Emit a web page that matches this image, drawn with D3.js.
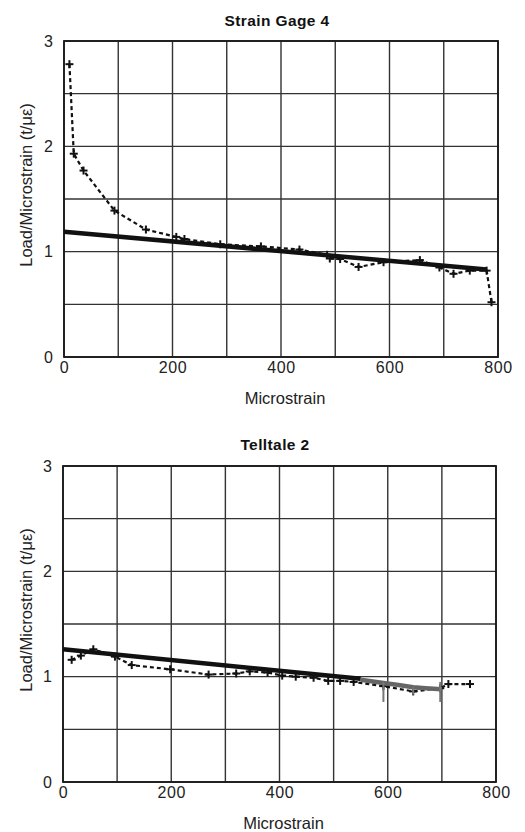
<!DOCTYPE html>
<html>
<head>
<meta charset="utf-8">
<script src="https://cdn.jsdelivr.net/npm/d3@7"></script>
<style>
  html, body { margin: 0; padding: 0; background: #fff; }
  svg { display: block; font-family: "Liberation Sans", Arial, Helvetica, sans-serif; }
</style>
</head>
<body>
<svg id="chart" width="525" height="832"></svg>
<script>
// Shared axis ticks
const xTicks = [0, 200, 400, 600, 800];
const xGrid = [0, 100, 200, 300, 400, 500, 600, 700, 800];
const yTicks = [0, 1, 2, 3];
const yGrid = [0, 0.5, 1, 1.5, 2, 2.5, 3];

// Strain Gage 4: measured load/microstrain
const gageX = [10, 18, 36, 93, 151, 207, 222, 288, 363, 434, 485, 490, 509, 543, 589, 656, 692, 718, 748, 779, 788];
const gageY = [2.78, 1.93, 1.77, 1.39, 1.21, 1.14, 1.12, 1.07, 1.05, 1.02, 0.97, 0.935, 0.93, 0.855, 0.90, 0.92, 0.85, 0.79, 0.82, 0.82, 0.52];
// Strain Gage 4: linear trend
const gageTrendX = [0, 779];
const gageTrendY = [1.19, 0.83];

// Telltale 2: measured load/microstrain
const tellX = [16, 33, 56, 96, 127, 198, 269, 320, 345, 378, 405, 430, 463, 490, 512, 537, 592, 647, 697, 712, 752];
const tellY = [1.16, 1.20, 1.26, 1.19, 1.11, 1.07, 1.02, 1.03, 1.05, 1.04, 1.01, 1.00, 0.99, 0.96, 0.96, 0.95, 0.91, 0.86, 0.89, 0.93, 0.93];
// Telltale 2: linear trend (black part) and continuation (grey part)
const tellTrendX = [0, 550];
const tellTrendY = [1.26, 0.98];
const tellTailX = [550, 592, 620, 647, 670, 700];
const tellTailY = [0.97, 0.94, 0.92, 0.90, 0.89, 0.88];
// Telltale 2: vertical spread marks on the grey segment
const tellSpreadX = [592, 647, 697];
const tellSpreadLo = [0.76, 0.83, 0.76];
const tellSpreadHi = [0.95, 0.90, 0.95];

const svg = d3.select("#chart");
const FONT = "'Liberation Sans', Arial, sans-serif";

function drawPanel(opts) {
  const x = d3.scaleLinear().domain([0, 800]).range([opts.left, opts.right]);
  const y = d3.scaleLinear().domain([0, 3]).range([opts.bottom, opts.top]);
  const g = svg.append("g");

  // grid
  g.selectAll(".vg").data(xGrid).enter().append("line")
    .attr("x1", d => x(d)).attr("x2", d => x(d))
    .attr("y1", y(0)).attr("y2", y(3))
    .attr("stroke", "#333").attr("stroke-width", 1.4);
  g.selectAll(".hg").data(yGrid).enter().append("line")
    .attr("x1", x(0)).attr("x2", x(800))
    .attr("y1", d => y(d)).attr("y2", d => y(d))
    .attr("stroke", "#333").attr("stroke-width", 1.4);
  g.append("rect")
    .attr("x", x(0)).attr("y", y(3))
    .attr("width", x(800) - x(0)).attr("height", y(0) - y(3))
    .attr("fill", "none").attr("stroke", "#1a1a1a").attr("stroke-width", 1.8);

  // axes (labels only)
  const xa = g.append("g").attr("transform", `translate(0,${y(0)})`)
    .call(d3.axisBottom(x).tickValues(xTicks).tickSize(0).tickPadding(5));
  xa.select(".domain").remove();
  xa.selectAll("text").attr("font-size", 16).attr("fill", "#222")
    .attr("font-family", FONT).attr("letter-spacing", 0.6);
  const ya = g.append("g").attr("transform", `translate(${x(0)},0)`)
    .call(d3.axisLeft(y).tickValues(yTicks).tickFormat(d3.format("d")).tickSize(0).tickPadding(11));
  ya.select(".domain").remove();
  ya.selectAll("text").attr("font-size", 16).attr("fill", "#222")
    .attr("font-family", FONT);

  // titles
  g.append("text").attr("x", opts.titleX).attr("y", opts.titleY)
    .attr("text-anchor", "middle").attr("font-weight", "bold").attr("font-size", 15.5)
    .attr("letter-spacing", 0.4).attr("fill", "#111").text(opts.title);
  g.append("text").attr("x", (opts.left + opts.right) / 2 + 4).attr("y", opts.bottom + 47)
    .attr("text-anchor", "middle").attr("font-size", 16.5).attr("fill", "#222").text("Microstrain");
  g.append("text")
    .attr("transform", `translate(32,${opts.yLabelY}) rotate(-90)`)
    .attr("text-anchor", "middle").attr("font-size", 16.5).attr("fill", "#222")
    .text("Load/Microstrain (t/\u03bc\u03b5)");

  return { g, x, y };
}

function zip(xs, ys) { return xs.map((v, i) => [v, ys[i]]); }

function drawSeries(p, xs, ys) {
  const line = d3.line().x(d => p.x(d[0])).y(d => p.y(d[1]));
  const pts = zip(xs, ys);
  p.g.append("path").datum(pts).attr("d", line)
    .attr("fill", "none").attr("stroke", "#111").attr("stroke-width", 2.2)
    .attr("stroke-dasharray", "4,3");
  const m = 4;
  const cross = p.g.selectAll(".pt").data(pts).enter().append("g")
    .attr("transform", d => `translate(${p.x(d[0])},${p.y(d[1])})`);
  cross.append("line").attr("x1", -m).attr("x2", m).attr("y1", 0).attr("y2", 0)
    .attr("stroke", "#111").attr("stroke-width", 2);
  cross.append("line").attr("x1", 0).attr("x2", 0).attr("y1", -m).attr("y2", m)
    .attr("stroke", "#111").attr("stroke-width", 2);
}

function drawTrend(p, xs, ys, color, width) {
  const line = d3.line().x(d => p.x(d[0])).y(d => p.y(d[1]));
  p.g.append("path").datum(zip(xs, ys)).attr("d", line)
    .attr("fill", "none").attr("stroke", color).attr("stroke-width", width)
    .attr("stroke-linecap", "butt");
}

// Strain Gage 4
const gagePanel = drawPanel({ left: 64, right: 498, top: 41, bottom: 357,
  title: "Strain Gage 4", titleX: 277, titleY: 26, yLabelY: 185 });
drawSeries(gagePanel, gageX, gageY);
drawTrend(gagePanel, gageTrendX, gageTrendY, "#111", 4.5);

// Telltale 2
const tellPanel = drawPanel({ left: 63, right: 496, top: 466, bottom: 782,
  title: "Telltale 2", titleX: 275, titleY: 450, yLabelY: 610 });
drawSeries(tellPanel, tellX, tellY);
drawTrend(tellPanel, tellTailX, tellTailY, "#666", 4.5);
tellPanel.g.selectAll(".spread").data(tellSpreadX).enter().append("line")
  .attr("x1", d => tellPanel.x(d)).attr("x2", d => tellPanel.x(d))
  .attr("y1", (d, i) => tellPanel.y(tellSpreadLo[i])).attr("y2", (d, i) => tellPanel.y(tellSpreadHi[i]))
  .attr("stroke", "#777").attr("stroke-width", 2);
drawTrend(tellPanel, tellTrendX, tellTrendY, "#111", 4.5);
</script>
</body>
</html>
